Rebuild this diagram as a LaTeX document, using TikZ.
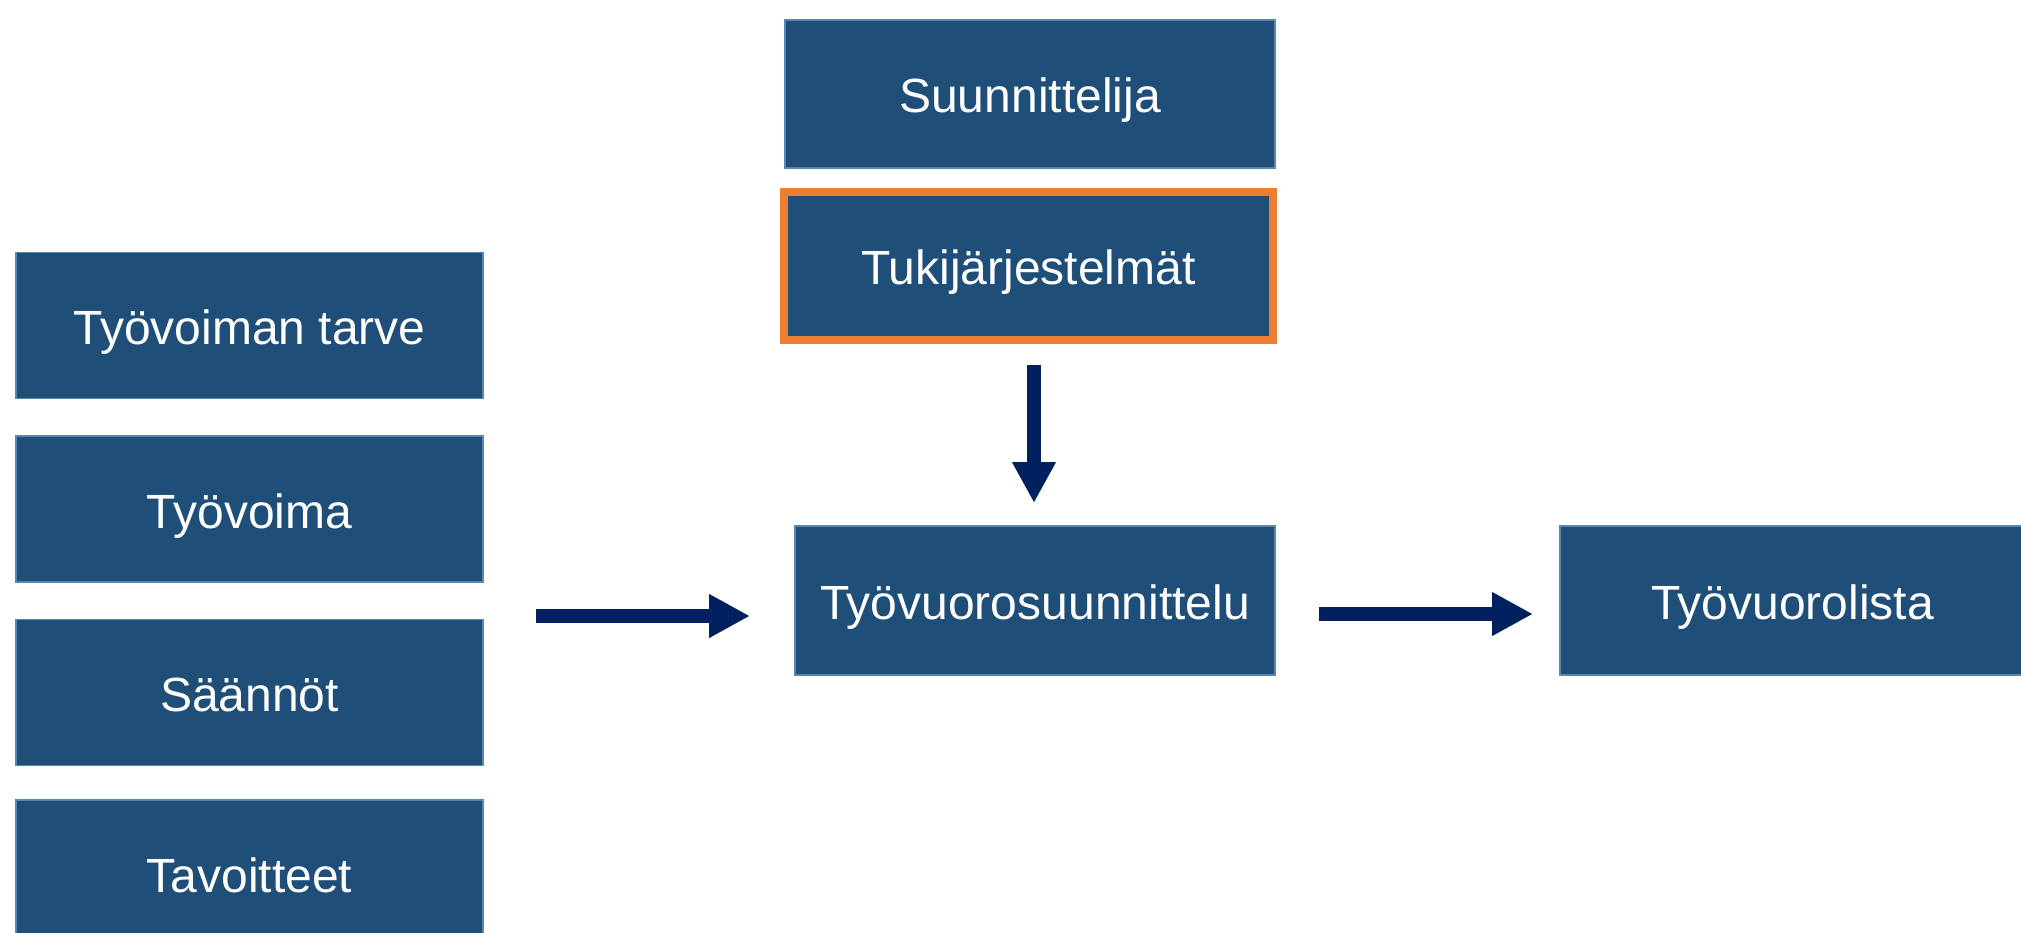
\documentclass[tikz,border=0pt]{standalone}
\usepackage{fontspec}
\setmainfont{Liberation Sans}
\usepackage{tikz}
\usetikzlibrary{positioning,arrows.meta}

\definecolor{boxblue}{HTML}{1F4E79}
\definecolor{boxline}{HTML}{5A86B0}
\definecolor{arrowblue}{HTML}{002060}
\definecolor{hiorange}{HTML}{ED7D31}

\begin{document}
\begin{tikzpicture}[x=1pt, y=-1pt]
        \tikzstyle{every node}=[font=\fontsize{48}{56}\selectfont, text=white, text height=38pt, text depth=0pt]
        \tikzstyle{block}=[rectangle, fill=boxblue, draw=boxline, line width=1.5pt, inner sep=0pt]
        \tikzstyle{flow}=[draw=arrowblue, line width=14pt, -{Triangle[length=41pt, width=41pt]}]

        \useasboundingbox (0,0) rectangle (2021,933);
        \clip (0,0) rectangle (2021,933);

        % left column
        \node (tarve)    [block, minimum width=467pt, minimum height=146pt] at (249.5,325.5) {Työvoiman tarve};
        \node (tyovoima) [block, minimum width=467pt, minimum height=146pt, below=36pt of tarve] {Työvoima};
        \node (saannot)  [block, minimum width=467pt, minimum height=146pt, below=36pt of tyovoima] {Säännöt};
        \node (tavoite)  [block, minimum width=467pt, minimum height=146pt, below=33pt of saannot] {Tavoitteet};

        % middle column
        \node (suunnittelija) [block, minimum width=490pt, minimum height=148pt] at (1030,94) {Suunnittelija};
        \node (tuki) [block, draw=hiorange, line width=8pt, minimum width=489pt, minimum height=148pt] at (1028.5,266) {Tukijärjestelmät};
        \node (suunnittelu) [block, minimum width=480pt, minimum height=149pt] at (1035,600.5) {Työvuorosuunnittelu};

        % right column
        \node (lista) [block, minimum width=465pt, minimum height=149pt] at (1792.5,600.5) {Työvuorolista};

        \coordinate (inA)  at (536,616);
        \coordinate (inB)  at (750,616);
        \coordinate (tukiA) at (1034,365);
        \coordinate (tukiB) at (1034,503);
        \coordinate (outA) at (1319,614);
        \coordinate (outB) at (1533,614);

        \draw[flow] (inA) -- (inB);
        \draw[flow] (tukiA) -- (tukiB);
        \draw[flow] (outA) -- (outB);

    \end{tikzpicture}
\end{document}
